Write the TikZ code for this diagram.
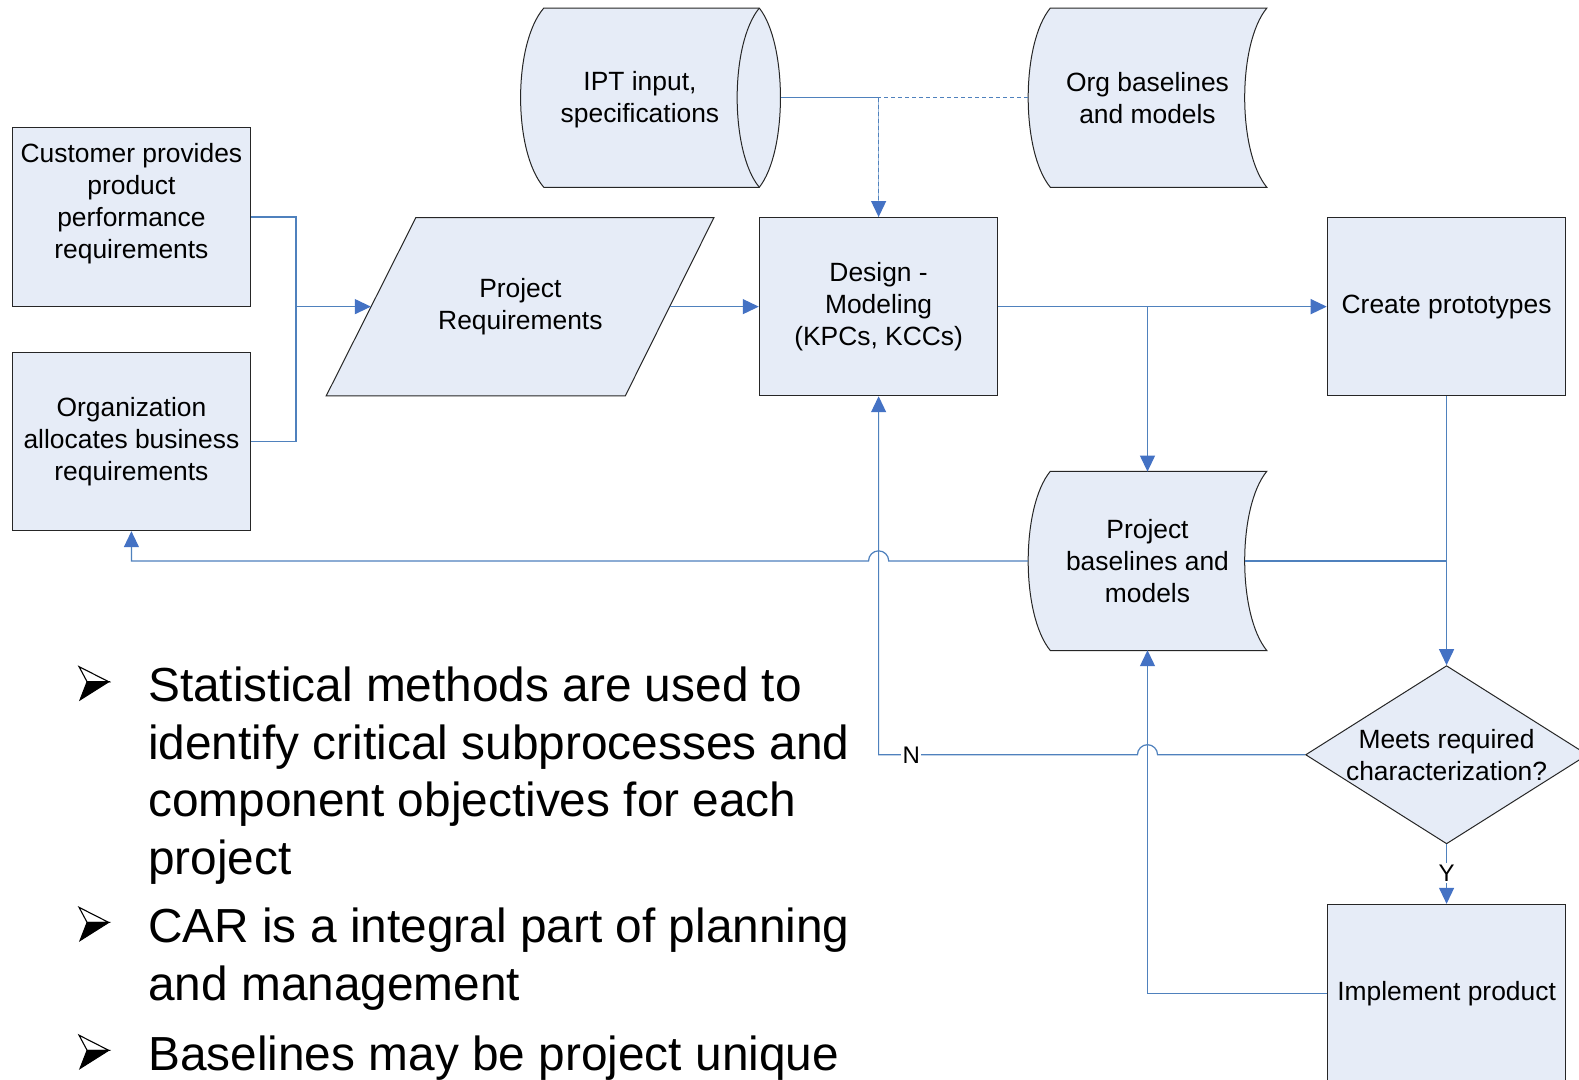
\documentclass[tikz,border=0pt]{standalone}
\usepackage{fontspec}
\setmainfont{Liberation Sans}
\usetikzlibrary{arrows.meta,shapes.geometric,calc}
\definecolor{fillc}{RGB}{230,236,247}
\definecolor{linec}{RGB}{79,129,189}
\definecolor{arrc}{RGB}{68,114,196}
\tikzset{
 box/.style={draw=black!85, line width=1pt, fill=fillc, minimum width=238.7pt, minimum height=178.2pt, inner sep=0pt, align=center, font=\fontsize{26.4pt}{32.2pt}\selectfont},
 lbl/.style={inner sep=0pt, align=center, font=\fontsize{26.4pt}{32.2pt}\selectfont},
 shp/.style={draw=black!85, line width=1pt, fill=fillc},
 conn/.style={draw=linec, line width=1.2pt},
 arr/.style={conn, -{Triangle[length=16pt,width=15pt,color=arrc]}},
 tlab/.style={fill=white, inner sep=1.5pt, font=\fontsize{24pt}{28pt}\selectfont},
 bul/.style={anchor=base west, inner sep=0pt, font=\fontsize{47.8pt}{57.4pt}\selectfont},
 bulmark/.pic={
   \draw[black, fill=white, line width=1.1pt, line join=miter] (-7.5,0) -- (-15.5,-15) -- (14,0) -- cycle;
   \draw[black, fill=black, line width=1.1pt, line join=miter] (-7.5,0) -- (-14.5,18) -- (14,0) -- cycle;
 },
}
\begin{document}
\begin{tikzpicture}[x=1.00702pt,y=-1.00702pt]
\useasboundingbox (0,0) rectangle (1568,1072);
\fill[white] (0,0) rectangle (1568,1072);
\clip (0,0) rectangle (1568,1072);

% shapes drawn directly
\path[shp] (324,393) -- (413,216) -- (709,216) -- (621,393) -- cycle;
\path[shp] (540,8) -- (754,8) .. controls (782,43.6) and (782,150.4) .. (754,186) -- (540,186) .. controls (509.3,150.4) and (509.3,43.6) .. (540,8) -- cycle;
\draw[black!85, line width=1pt] (754,8) .. controls (724.7,43.6) and (724.7,150.4) .. (754,186);
\path[shp] (1043,8) -- (1258,8) .. controls (1228.7,43.6) and (1228.7,150.4) .. (1258,186) -- (1043,186) .. controls (1013.7,150.4) and (1013.7,43.6) .. (1043,8) -- cycle;
\path[shp] (1043,468) -- (1258,468) .. controls (1228.7,503.6) and (1228.7,610.4) .. (1258,646) -- (1043,646) .. controls (1013.7,610.4) and (1013.7,503.6) .. (1043,468) -- cycle;

% nodes
\node[box] (cust) at (130.5,215.5) {Customer provides\\product\\performance\\requirements\\\mbox{}};
\node[box] (org) at (130.5,438.5) {Organization\\allocates business\\requirements};
\node[lbl, minimum width=298.6pt, minimum height=178.2pt] (preq) at (516.75,304.5) {Project\\Requirements};
\node[box] (des) at (872.5,304.5) {Design -\\Modeling\\(KPCs, KCCs)};
\node[box] (cp) at (1436.5,304.5) {Create prototypes};
\node[lbl, minimum width=238.7pt, minimum height=178.2pt] (ipt) at (635.5,99) {IPT input,\\specifications};
\node[lbl, minimum width=238.7pt, minimum height=178.2pt] (ob) at (1139.5,97) {Org baselines\\and models};
\node[lbl, minimum width=238.7pt, minimum height=178.2pt] (pb) at (1139.5,557) {Project\\baselines and\\models};
\node[draw=black!85, line width=1pt, fill=fillc, diamond, minimum width=282pt, minimum height=178.2pt, inner sep=0pt, label={[lbl]center:Meets required\\characterization?}] (dia) at (1436.5,749.5) {};
\node[box] (impl) at (1436.5,986.5) {Implement product};

% connectors
\coordinate (j1) at (294,304.5);
\draw[conn] (cust.east) -| (j1) |- (org.east);
\draw[arr] (j1) -- (preq.west);
\draw[arr] (preq.east) -- (des.west);

\coordinate (j2) at (des.north |- ob.west);
\draw[conn] ([xshift=21.1pt]ipt.east |- ob.west) -- (j2);
\draw[conn, dash pattern=on 4pt off 3pt] (ob.west) -- (j2);
\draw[conn, draw=linec!55] (j2) -- (des.north);
\draw[arr, dash pattern=on 4pt off 3pt] (j2) -- (des.north);

\coordinate (j3) at (des.east -| pb.north);
\draw[arr] (des.east) -- (cp.west);
\draw[arr] (j3) -- (pb.north);
\draw[arr] (cp.south) -- (dia.north);
\draw[conn] ([xshift=-22.2pt]pb.east) -- (pb.east -| cp.south);

\draw[arr] (pb.west) -- (882.5,557) .. controls (882.5,551.5) and (878,547) .. (872.5,547) .. controls (867,547) and (862.5,551.5) .. (862.5,557) -- (org.south |- pb.west) -- (org.south);
\draw[arr] (dia.west) -- (1149.5,749.5) .. controls (1149.5,744) and (1145,739.5) .. (1139.5,739.5) .. controls (1134,739.5) and (1129.5,744) .. (1129.5,749.5) -- node[pos=0.874, tlab] {N} (des.south |- dia.west) -- (des.south);
\draw[arr] (dia.south) -- node[pos=0.48, tlab] {Y} (impl.north);
\draw[arr] (impl.west) -| (pb.south);

% bullets
\pic at (94,677) {bulmark};
\pic at (94,916) {bulmark};
\pic at (94,1043) {bulmark};
\node[bul] (t1) at (147,697) {Statistical methods are used to};
\node[bul] (t2) at (147,754) {identify critical subprocesses and};
\node[bul] (t3) at (147,811) {component objectives for each};
\node[bul] (t4) at (147,868) {project};
\node[bul] (t5) at (147,936) {CAR is a integral part of planning};
\node[bul] (t6) at (147,994) {and management};
\node[bul] (t7) at (147,1063) {Baselines may be project unique};
\end{tikzpicture}
\end{document}
